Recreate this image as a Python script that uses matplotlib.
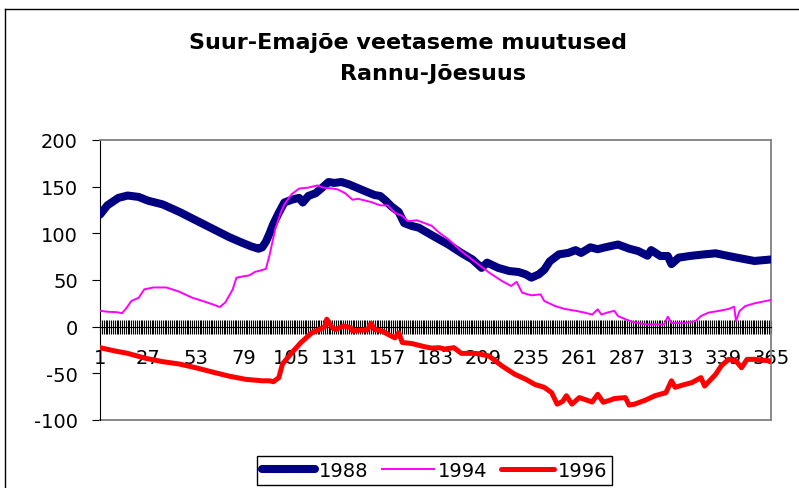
import matplotlib
matplotlib.use("Agg")
import matplotlib.pyplot as plt
from matplotlib.lines import Line2D

plt.rcParams['font.family'] = 'DejaVu Sans'
plt.rcParams['axes.unicode_minus'] = False

# values (day of year -> water level change)
days_1988 = [1, 5, 11, 16, 22, 27, 35, 44, 53, 62,
             71, 78, 83, 87, 89, 91, 93, 95, 98, 101,
             105, 109, 111, 114, 118, 121, 125, 128, 132, 136,
             139, 145, 150, 153, 156, 159, 163, 166, 170, 174,
             177, 181, 185, 190, 197, 203, 208, 211, 217, 223,
             228, 232, 235, 239, 242, 245, 250, 255, 259, 262,
             267, 271, 275, 282, 288, 293, 298, 300, 305, 309,
             311, 315, 322, 329, 335, 342, 349, 356, 365]
level_1988 = [120, 130, 138, 140.5, 139, 135, 131, 123, 114, 105,
              96, 90, 86, 83.5, 85, 91, 100, 110, 122, 133,
              136, 138, 133, 140, 143, 148, 155, 154, 155, 152.5,
              150, 145, 141, 140, 135, 129, 123, 111, 108, 106,
              102.5, 98, 93.5, 88, 79, 72, 63, 68.6, 63, 59.6,
              58.6, 56, 52.5, 56, 61, 70, 77.5, 79, 82, 79,
              85, 83, 85, 88, 83.6, 81, 76, 82, 75.7, 75.7,
              67, 74, 76, 77.5, 78.6, 75.7, 73, 70.4, 72]

days_1994 = [1, 5, 10, 13, 15, 18, 22, 25, 30, 37,
             44, 51, 56, 62, 66, 69, 73, 75, 79, 82,
             85, 89, 91, 93, 96, 99, 101, 105, 109, 114,
             119, 122, 127, 130, 134, 138, 141, 145, 148, 153,
             157, 161, 165, 168, 173, 177, 181, 185, 190, 197,
             205, 212, 219, 224, 227, 230, 235, 240, 242, 248,
             253, 259, 264, 268, 271, 273, 276, 280, 282, 286,
             290, 297, 302, 307, 309, 311, 318, 324, 327, 331,
             337, 342, 345, 346, 348, 351, 356, 365]
level_1994 = [17, 16, 15.5, 14.5, 19, 27.5, 31, 40, 42, 42,
              37.5, 31, 28, 24, 21, 26, 40, 52.5, 54, 55,
              58.6, 60.7, 62, 77, 104, 122, 131, 142, 148, 149,
              151.4, 149, 148, 147, 143, 136, 137, 135, 133.6, 130,
              130, 122, 118.6, 113, 114, 111, 108, 100.7, 93.6, 81,
              68.6, 58, 49, 43.6, 48, 36.4, 33.6, 34.6, 27.5, 22,
              19, 17, 15, 13, 18.6, 13, 15, 17, 11.4, 8,
              5, 2.5, 2.5, 2.5, 10.7, 4, 3.6, 6, 11.4, 15,
              17, 19, 21.4, 6, 17, 22, 25, 28.6]

days_1996 = [1, 9, 16, 26, 35, 44, 53, 62, 71, 80,
             89, 93, 95, 98, 100, 105, 110, 116, 120, 123,
             124, 127, 129, 133, 137, 138, 143, 146, 148, 150,
             154, 157, 161, 163, 165, 170, 176, 181, 185, 188,
             193, 197, 205, 212, 219, 226, 232, 237, 242, 246,
             249, 252, 254, 257, 261, 264, 268, 271, 274, 278,
             280, 286, 288, 291, 297, 302, 308, 311, 313, 318,
             322, 327, 329, 335, 338, 342, 346, 349, 352, 356,
             365]
level_1996 = [-22.5, -26, -28.6, -34, -37.5, -40, -44, -48.6, -53, -56.4,
              -58, -58, -59, -54.6, -40, -28, -17, -6.4, -3, 0,
              8, -1, -3, 0.7, -1, -4.6, -3.6, -3.6, 3.6, -3,
              -4.6, -8, -12, -6.4, -17, -18, -21, -23, -22.5, -24,
              -22.5, -28.6, -28.6, -31.4, -42, -51, -56.4, -62, -65, -70.7,
              -83, -80, -74, -83, -76, -78, -80.7, -72.5, -81, -78.6,
              -77, -76, -84, -83, -78.6, -74, -70.7, -58, -65, -62,
              -60, -54.6, -63.6, -51, -42, -35, -36.8, -44, -35, -35,
              -36.8]

x_labels = list(range(1, 366, 26))
y_ticks = [-100, -50, 0, 50, 100, 150, 200]

W, H = 799, 489
fig = plt.figure(figsize=(W / 100, H / 100), dpi=100)
ax = fig.add_axes([100 / W, 1 - 421 / H, 671 / W, 280 / H])

ax.plot(days_1988, level_1988, color='#000080', lw=5.8, label='1988',
        solid_joinstyle='round', solid_capstyle='round', zorder=3)
ax.plot(days_1994, level_1994, color='#FF00FF', lw=1.4, label='1994',
        solid_joinstyle='round', zorder=3)
ax.plot(days_1996, level_1996, color='#FF0000', lw=3.6, label='1996',
        solid_joinstyle='round', solid_capstyle='round', zorder=3)

ax.set_xlim(1, 365)
ax.set_ylim(-100, 200)

# category axis crosses at zero, one tick per day
ax.spines['bottom'].set_position(('data', 0))
ax.spines['bottom'].set_color('black')
ax.spines['left'].set_color('black')
for side in ['top', 'right']:
    ax.spines[side].set_color('#808080')
    ax.spines[side].set_linewidth(1.3)
ax.add_line(Line2D([0, 1], [0, 0], transform=ax.transAxes, color='#808080',
                   lw=1.3, clip_on=False))

ax.set_xticks(x_labels)
ax.set_xticks(range(1, 366), minor=True)
ax.set_xticklabels([str(v) for v in x_labels])
ax.tick_params(axis='x', which='both', direction='inout', length=10,
               width=0.8, pad=10.5, labelsize=14, color='black')
ax.set_yticks(y_ticks)
ax.tick_params(axis='y', direction='out', length=6, width=0.8, pad=10,
               labelsize=14)

fig.text(408 / W, 1 - 43 / H, 'Suur-Emajõe veetaseme muutused',
         ha='center', va='center', fontsize=16, fontweight='bold')
fig.text(433 / W, 1 - 74 / H, 'Rannu-Jõesuus',
         ha='center', va='center', fontsize=16, fontweight='bold')

leg = ax.legend(loc='center', bbox_to_anchor=(434.5 / W, 1 - 471.5 / H),
                bbox_transform=fig.transFigure, ncol=3, fontsize=14,
                fancybox=False, edgecolor='black', framealpha=1,
                borderpad=0.25, handlelength=2.7, handletextpad=0.2,
                columnspacing=0.7, borderaxespad=0)
leg.get_frame().set_linewidth(1)

# outer chart frame
fig.add_artist(Line2D([5 / W, 1], [1 - 10 / H, 1 - 10 / H],
                      transform=fig.transFigure, color='black', lw=1))
fig.add_artist(Line2D([5 / W, 5 / W], [0, 1 - 10 / H],
                      transform=fig.transFigure, color='black', lw=1))

fig.savefig('out.png', dpi=100)
